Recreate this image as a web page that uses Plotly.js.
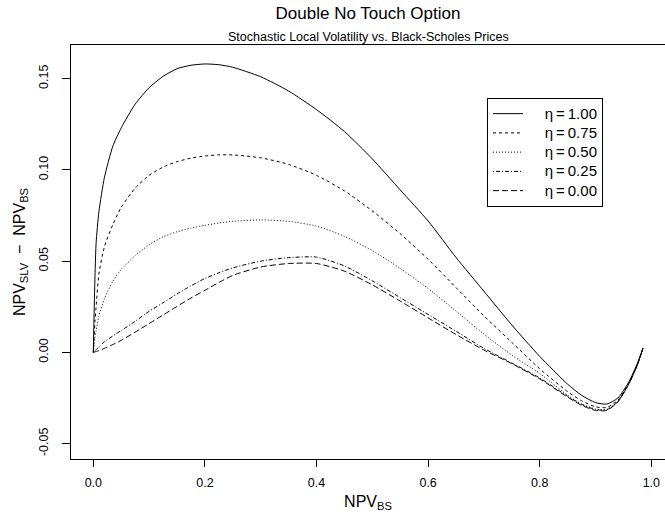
<!DOCTYPE html>
<html>
<head>
<meta charset="utf-8">
<script src="https://cdn.plot.ly/plotly-3.0.1.min.js"></script>
<style>
  html, body { margin: 0; padding: 0; background: #ffffff; overflow: hidden; }
  #chart { width: 665px; height: 514px; }
</style>
</head>
<body>
<div id="chart"></div>
<script>
// ---- Data ----
const npvBS = [0, 0.001, 0.003, 0.005, 0.01, 0.02, 0.035, 0.05, 0.075, 0.1, 0.125, 0.15, 0.175, 0.2, 0.225, 0.25, 0.3, 0.35, 0.4, 0.45, 0.5, 0.55, 0.6, 0.65, 0.7, 0.75, 0.8, 0.85, 0.875, 0.9, 0.92, 0.94, 0.96, 0.975, 0.985];

const eta100 = [0, 0.016, 0.042, 0.060, 0.077, 0.096, 0.113, 0.123, 0.136, 0.145, 0.1512, 0.1554, 0.1573, 0.1580, 0.1576, 0.1562, 0.1510, 0.1432, 0.1330, 0.1210, 0.1060, 0.0890, 0.0720, 0.0520, 0.0335, 0.0150, -0.0022, -0.0174, -0.0235, -0.0275, -0.0283, -0.0250, -0.0160, -0.0060, 0.0023];
const eta075 = [0, 0.006, 0.017, 0.025, 0.043, 0.058, 0.070, 0.0795, 0.090, 0.0970, 0.1015, 0.1045, 0.1064, 0.1076, 0.1082, 0.1082, 0.1066, 0.1030, 0.0970, 0.0885, 0.0775, 0.0650, 0.0510, 0.0355, 0.0200, 0.0055, -0.0090, -0.0215, -0.0265, -0.0298, -0.0302, -0.0262, -0.0165, -0.0065, 0.0023];
const eta050 = [0, 0.003, 0.008, 0.0118, 0.020, 0.0295, 0.039, 0.0455, 0.053, 0.0590, 0.0633, 0.0661, 0.0681, 0.0696, 0.0709, 0.0718, 0.0726, 0.0718, 0.0692, 0.0636, 0.0558, 0.0460, 0.0350, 0.0226, 0.0100, -0.0015, -0.0115, -0.0235, -0.0282, -0.0310, -0.0312, -0.0268, -0.0168, -0.0067, 0.0023];
const eta025 = [0, 0.0003, 0.0009, 0.0015, 0.0030, 0.0058, 0.0090, 0.0120, 0.0170, 0.0225, 0.0272, 0.0320, 0.0365, 0.0405, 0.0436, 0.0463, 0.0500, 0.0519, 0.0522, 0.0474, 0.0392, 0.0300, 0.0208, 0.0116, 0.0022, -0.0058, -0.0140, -0.0240, -0.0285, -0.0313, -0.0315, -0.0270, -0.0170, -0.0068, 0.0023];
const eta000 = [0, 0.0001, 0.0003, 0.0005, 0.0010, 0.0022, 0.0043, 0.0066, 0.0111, 0.0158, 0.0205, 0.0252, 0.0298, 0.0340, 0.0383, 0.0422, 0.0468, 0.0487, 0.0487, 0.0445, 0.0370, 0.0281, 0.0189, 0.0098, 0.0013, -0.0062, -0.0145, -0.0245, -0.0290, -0.0318, -0.0318, -0.0272, -0.0172, -0.0069, 0.0023];

const seriesNames = ['η\u2009=\u20091.00', 'η\u2009=\u20090.75', 'η\u2009=\u20090.50', 'η\u2009=\u20090.25', 'η\u2009=\u20090.00'];
const seriesValues = [eta100, eta075, eta050, eta025, eta000];
const seriesDash = ['solid', '3px,3px', '1px,2px', '1px,2px,4px,2px', '6px,3px'];

const xTickVals = [0, 0.2, 0.4, 0.6, 0.8, 1.0];
const xTickText = ['0.0', '0.2', '0.4', '0.6', '0.8', '1.0'];
const yTickVals = [-0.05, 0, 0.05, 0.10, 0.15];
const yTickText = ['-0.05', '0.00', '0.05', '0.10', '0.15'];

const titleText = 'Double No Touch Option';
const subtitleText = 'Stochastic Local Volatility vs. Black-Scholes Prices';
const xTitle = 'NPV<sub>BS</sub>';
const yTitle = 'NPV<sub>SLV</sub>\u00A0\u00A0\u2212\u00A0\u00A0NPV<sub>BS</sub>';

// ---- Chart ----
const FONT = 'Liberation Sans, Arial, Helvetica, sans-serif';
const PAD = '\u00A0\u00A0\u00A0\u00A0';

const traces = seriesValues.map((vals, i) => ({
  x: npvBS,
  y: vals,
  type: 'scatter',
  mode: 'lines',
  name: '<span style="font-size:15px">' + PAD + seriesNames[i] + '</span>',
  line: { color: '#000000', width: 1, dash: seriesDash[i], shape: 'spline', smoothing: 0.6 }
}));

const layout = {
  width: 665,
  height: 514,
  margin: { l: 71, r: 0, t: 45, b: 55 },
  paper_bgcolor: '#ffffff',
  plot_bgcolor: '#ffffff',
  font: { family: FONT, color: '#000000', size: 12 },
  showlegend: true,
  title: {
    text: titleText,
    font: { family: FONT, size: 17, color: '#000000' },
    x: 0.5, xref: 'paper', xanchor: 'center',
    y: 1 - 13 / 514, yref: 'container', yanchor: 'middle'
  },
  annotations: [{
    text: subtitleText,
    xref: 'paper', yref: 'paper',
    x: 0.5, y: (459 - 37) / 414,
    xanchor: 'center', yanchor: 'middle',
    showarrow: false,
    font: { family: FONT, size: 12.5, color: '#000000' }
  }],
  xaxis: {
    range: [-0.04, -0.04 + 594 / 558],
    tickvals: xTickVals,
    ticktext: xTickText,
    ticks: 'outside', ticklen: 7, tickwidth: 1, tickcolor: '#000000',
    showline: true, linecolor: '#000000', linewidth: 1, mirror: true,
    showgrid: false, zeroline: false,
    tickfont: { family: FONT, size: 12.5, color: '#000000' },
    ticklabelstandoff: 5,
    title: { text: xTitle, font: { family: FONT, size: 16, color: '#000000' }, standoff: 6 }
  },
  yaxis: {
    range: [-0.0584, 0.1684],
    tickvals: yTickVals,
    ticktext: yTickText,
    tickangle: -90,
    ticks: 'outside', ticklen: 8, tickwidth: 1, tickcolor: '#000000',
    showline: true, linecolor: '#000000', linewidth: 1, mirror: false,
    showgrid: false, zeroline: false,
    tickfont: { family: FONT, size: 12.5, color: '#000000' },
    ticklabelstandoff: 9,
    title: { text: yTitle, font: { family: FONT, size: 16, color: '#000000' }, standoff: 7 }
  },
  legend: {
    x: (487 - 71) / 594, y: (459 - 98) / 414,
    xanchor: 'left', yanchor: 'top',
    bgcolor: '#ffffff',
    bordercolor: '#000000', borderwidth: 1,
    font: { family: FONT, size: 12.5, color: '#000000' },
    traceorder: 'normal'
  }
};

Plotly.newPlot('chart', traces, layout, { displayModeBar: false, staticPlot: true });
</script>
</body>
</html>
